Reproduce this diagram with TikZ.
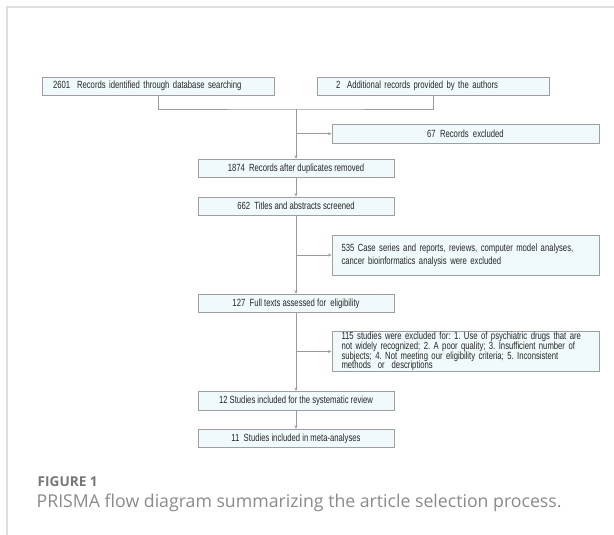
\documentclass[tikz,border=0pt]{standalone}
\usepackage{fontspec}
\usetikzlibrary{arrows.meta}
\newfontfamily\boxfont[FakeStretch=0.74]{Liberation Sans}
\newfontfamily\capfont{Open Sans}
\definecolor{boxfill}{HTML}{F0F9FB}
\definecolor{boxline}{HTML}{9E9E9E}
\definecolor{boxtext}{HTML}{262626}
\definecolor{linkgray}{HTML}{9A9A9A}
\definecolor{framegray}{HTML}{DEDEDE}
\definecolor{capgray}{HTML}{8A8A8A}
\definecolor{labelgray}{HTML}{767676}
\frenchspacing
\tikzset{
    box/.style={draw=boxline, fill=boxfill, text=boxtext, line width=0.9pt,
        font=\boxfont\fontsize{10.4}{9.8}\selectfont, inner xsep=0pt, inner ysep=0pt,
        minimum height=18.5pt, align=center},
    midbox/.style={box, minimum width=196pt},
    sidebox/.style={box, minimum width=267pt},
    notebox/.style={box, text width=248pt, inner xsep=9.5pt, minimum height=40pt, align=left},
    link/.style={draw=linkgray, line width=0.9pt},
    arrow/.style={link, -{Stealth[length=3.5pt,width=3pt]}}
}
\begin{document}
\begin{tikzpicture}[x=1pt, y=-1pt]
    \useasboundingbox (0,0) rectangle (614,535);
    \draw[framegray, line width=1.2pt] (7,536) -- (7,7) -- (615,7);

    \node[box, text width=210pt, inner xsep=11pt, align=left] (found) at (158,86.25)
        {2601\ \ Records identified through database searching};
    \node[box, text width=194pt, inner xsep=19pt, align=left] (extra) at (433,86.25)
        {2\ \ Additional records provided by the authors};
    \node[sidebox] (dropped) at (465.5,133.75) {67\ \ Records\ \ excluded};
    \node[midbox] (dedup) at (296,168.5) {1874\ \ Records after duplicates removed};
    \node[midbox] (screened) at (296,206.25) {662\ \ Titles and abstracts screened};
    \node[notebox, font=\boxfont\fontsize{10.4}{13}\selectfont] (casesout) at (465.5,255)
        {535 Case series and reports, reviews, computer model analyses,\\
        cancer bioinformatics analysis were excluded};
    \node[midbox] (fulltext) at (296,303.5) {127\ \ Full texts assessed for\ \ eligibility};
    \node[notebox] (studiesout) at (465.5,351.5)
        {115 studies were excluded for: 1. Use of psychiatric drugs that are\\
        not widely recognized; 2. A poor quality; 3. Insufficient number of\\
        subjects; 4. Not meeting our eligibility criteria; 5. Inconsistent\\
        methods\ \ or\ \ descriptions};
    \node[midbox] (review) at (296,400.75) {12 Studies included for the systematic review};
    \node[midbox] (meta) at (296,438.5) {11\ \ Studies included in meta-analyses};

    \coordinate (join) at (296,109);
    \draw[link] (found.south) |- (join) -| (extra.south);
    \draw[arrow] (join) -- (dedup.north);
    \draw[arrow] (join |- dropped.west) -- (dropped.west);
    \draw[arrow] (dedup) -- (screened);
    \draw[arrow] (screened) -- (fulltext);
    \draw[arrow] (screened.south |- casesout.west) -- (casesout.west);
    \draw[arrow] (fulltext) -- (review);
    \draw[arrow] (fulltext.south |- studiesout.west) -- (studiesout.west);
    \draw[arrow] (review) -- (meta);

    \node[anchor=base west, inner sep=0pt, text=labelgray, font=\capfont\bfseries\fontsize{13.6}{15}\selectfont]
        (figlabel) at (37.5,486) {FIGURE 1};
    \node[anchor=base west, inner sep=0pt, text=capgray, font=\capfont\fontsize{17.7}{20}\selectfont]
        (figcaption) at (36.5,507) {PRISMA flow diagram summarizing the article selection process.};
\end{tikzpicture}
\end{document}
